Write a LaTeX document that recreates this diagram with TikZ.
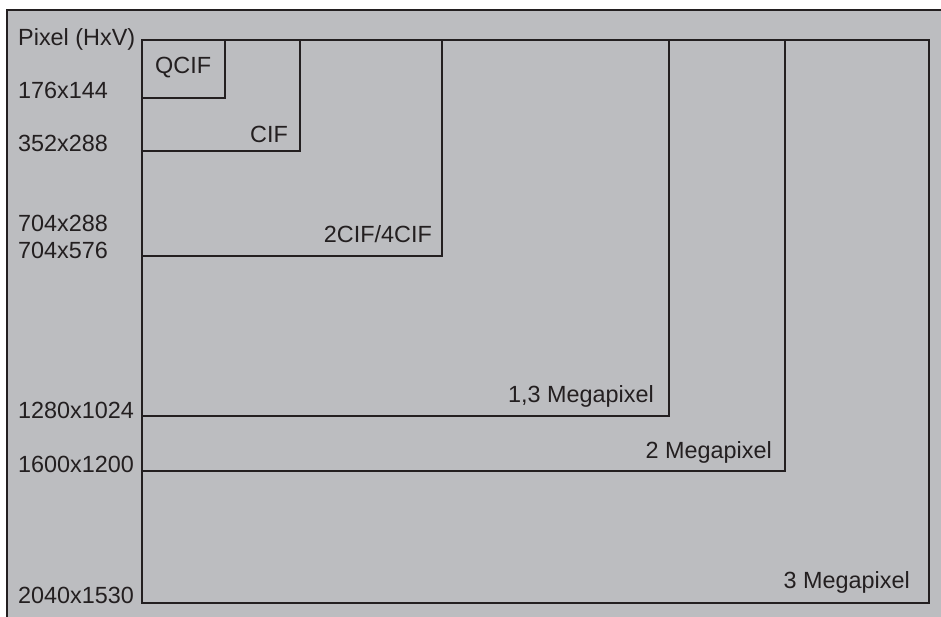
\documentclass[tikz,border=0pt]{standalone}
\usepackage{fontspec}
\setmainfont{Liberation Sans}
\definecolor{bg}{HTML}{BCBDC0}
\definecolor{ink}{HTML}{231F20}
\begin{document}
\begin{tikzpicture}[x=1pt,y=-1pt,
  frame/.style={draw=ink,line width=2.8pt,line join=miter},
  lbl/.style={inner sep=0pt,text=ink,font=\fontsize{23.4}{28}\selectfont}]
\useasboundingbox (0,0) rectangle (941,617);
\clip (0,0) rectangle (941,617);
\fill[white] (0,0) rectangle (941,617);
\fill[bg] (7,10) rectangle (960,640);
\draw[frame] (7,640) -- (7,10) -- (960,10);
% nested formats, all sharing the top-left corner
\coordinate (o) at (142,40);
\draw[frame] (o) rectangle (929,603);
\draw[frame] (o) rectangle (785,471);
\draw[frame] (o) rectangle (669,416);
\draw[frame] (o) rectangle (442,256);
\draw[frame] (o) rectangle (300,151);
\draw[frame] (o) rectangle (225,98);
% format names
\node[lbl,anchor=base west] (qcif) at (155,74) {QCIF};
\node[lbl,anchor=base east] (cif) at (288,143) {CIF};
\node[lbl,anchor=base east] (cif4) at (432,243) {2CIF/4CIF};
\node[lbl,anchor=base east] (mp13) at (654,402) {1,3 Megapixel};
\node[lbl,anchor=base east] (mp2) at (772,458) {2 Megapixel};
\node[lbl,anchor=base east] (mp3) at (910,588) {3 Megapixel};
% resolutions
\node[lbl,anchor=base west] (hdr) at (18,46) {Pixel (HxV)};
\node[lbl,anchor=base west] (r1) at (18,99) {176x144};
\node[lbl,anchor=base west] (r2) at (18,152) {352x288};
\node[lbl,anchor=base west] (r3) at (18,232) {704x288};
\node[lbl,anchor=base west] (r4) at (18,259) {704x576};
\node[lbl,anchor=base west] (r5) at (18,418) {1280x1024};
\node[lbl,anchor=base west] (r6) at (18,472) {1600x1200};
\node[lbl,anchor=base west] (r7) at (18,603) {2040x1530};
\end{tikzpicture}
\end{document}
